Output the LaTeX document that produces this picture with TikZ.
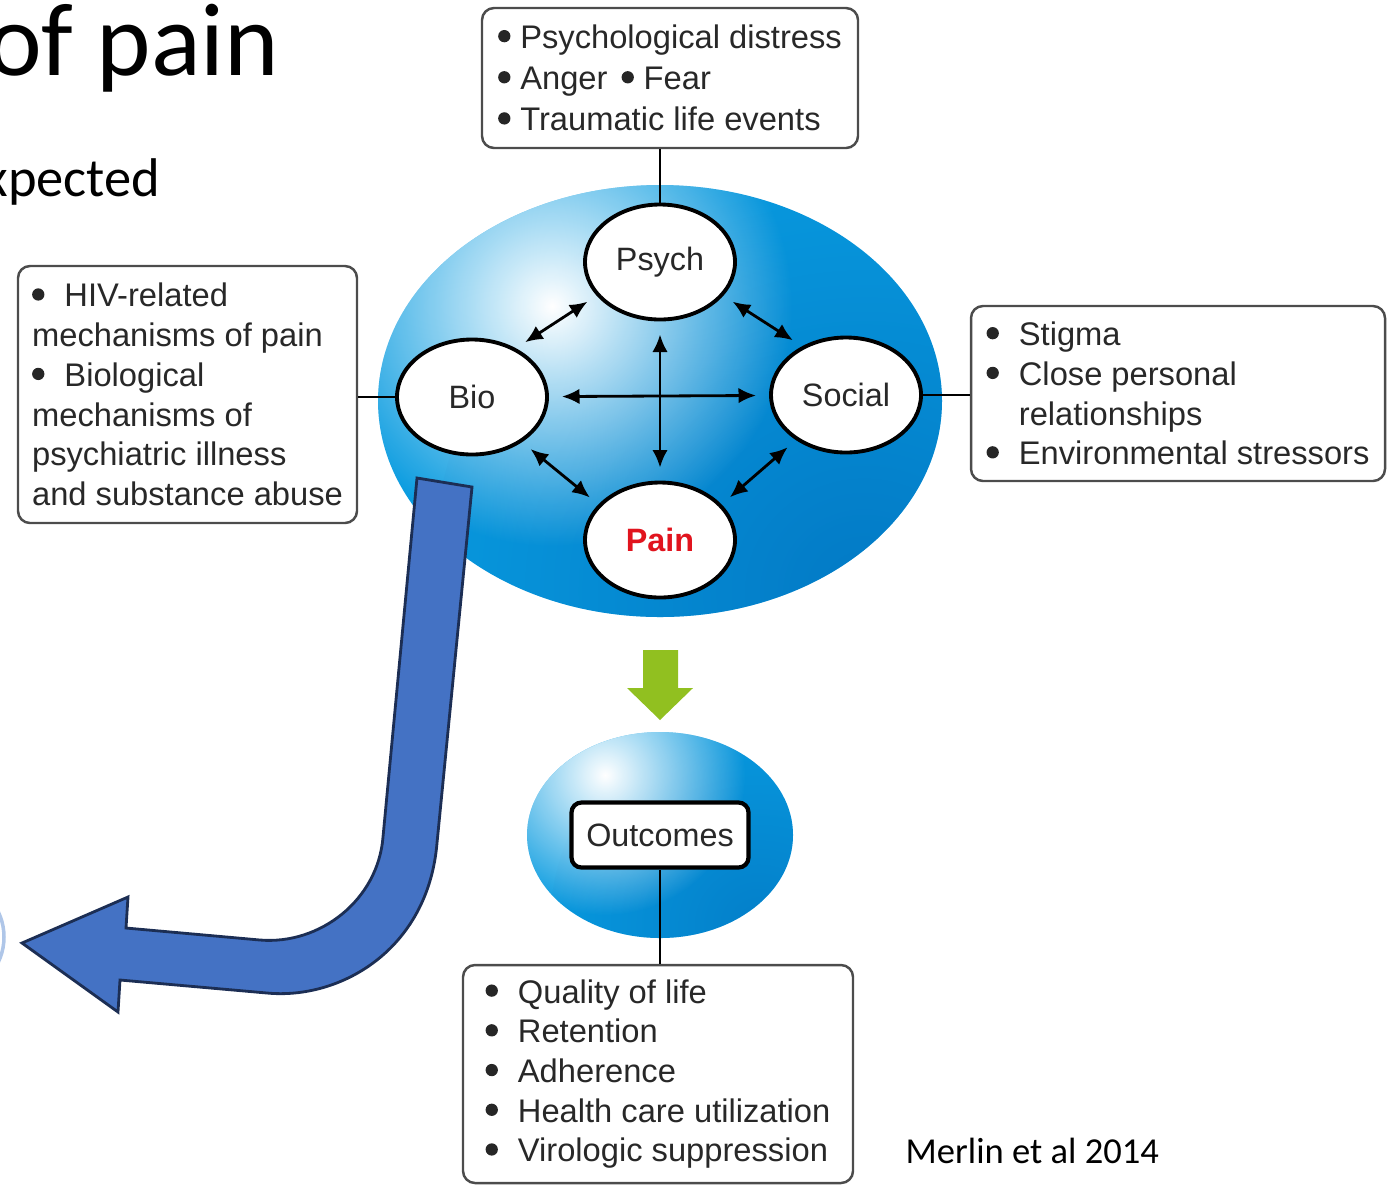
\documentclass[tikz,border=0pt]{standalone}
\usepackage{graphicx}
\usepackage{fontspec}
\setmainfont{Liberation Sans}
\newfontfamily\slidefont{Carlito}
\usetikzlibrary{shapes.geometric,arrows.meta,fadings}
\tikzfading[name=glow, inner color=transparent!0, outer color=transparent!100]
\definecolor{blobblue}{RGB}{8,155,224}
\definecolor{blobdark}{RGB}{0,100,180}
\definecolor{txtgrey}{RGB}{40,40,40}
\definecolor{leafgreen}{RGB}{145,192,32}
\definecolor{pptblue}{RGB}{68,114,196}
\definecolor{pptedge}{RGB}{28,46,84}
\definecolor{paleblue}{RGB}{175,198,232}
\definecolor{painred}{RGB}{225,20,30}
\tikzstyle{listbox} = [rectangle, draw=black!70, line width=0.7pt, rounded corners=1.2mm, align=left, text=txtgrey, font=\fontsize{9.3}{11.3}\selectfont, inner sep=0pt]
\tikzstyle{factor} = [ellipse, draw, line width=1.1pt, fill=white, minimum width=15mm, minimum height=11.5mm, inner sep=0pt, text=txtgrey, font=\fontsize{9.2}{11}\selectfont]
\tikzstyle{blob} = [ellipse, fill=blobblue, inner sep=0pt]
\tikzstyle{link} = [line width=0.6pt]
\tikzstyle{twoway} = [line width=0.8pt, {Latex[length=5pt,width=4.4pt]}-{Latex[length=5pt,width=4.4pt]}, shorten >=1.1mm, shorten <=1.1mm]
\tikzstyle{slide} = [inner sep=0pt, font=\slidefont]
\newcommand{\bul}[1][9.2pt]{\makebox[#1][l]{\tikz[baseline=-0.38em]\fill[black!85] (1.8pt,0) circle [radius=1.75pt];}}

\begin{document}
\begin{tikzpicture}[x=0.1mm, y=-0.1mm]
    \useasboundingbox (0,0) rectangle (1397,1185);
    % what is left of the slide text
    \node[slide, anchor=base east, font=\slidefont\fontsize{29.5}{30}\selectfont] (title) at (280,75) {of pain};
    \node[slide, anchor=base east, font=\slidefont\fontsize{15.5}{16}\selectfont] (subtitle) at (161,196) {xpected};
    \node[slide, anchor=base west, font=\slidefont\fontsize{10.4}{12}\selectfont] (cite) at (905,1163) {Merlin et al 2014};
    \draw[paleblue, line width=1pt] (-42,937) ellipse [x radius=4.6mm, y radius=5.2mm];
    % the two blue blobs
    \node[blob, minimum width=56.4mm, minimum height=43.2mm, path picture={
        \fill[blobdark, path fading=glow, fill opacity=0.6] ([shift={(230,190)}]path picture bounding box.center) circle [radius=46mm];
        \fill[white, path fading=glow] ([shift={(-108,-95)}]path picture bounding box.center) circle [radius=24mm];
    }] (bpsmodel) at (660,401) {};
    \node[blob, minimum width=26.6mm, minimum height=20.6mm, path picture={
        \fill[blobdark, path fading=glow, fill opacity=0.5] ([shift={(110,90)}]path picture bounding box.center) circle [radius=22mm];
        \fill[white, path fading=glow] ([shift={(-55,-60)}]path picture bounding box.center) circle [radius=14mm];
    }] (outblob) at (660,835) {};
    \fill[leafgreen] (643,650) -- (678,650) -- (678,688) -- (693,688) -- (660,720) -- (627,688) -- (643,688) -- cycle;
    % boxes
    \node[listbox, minimum width=37.6mm, minimum height=14mm, font=\fontsize{9.3}{11.7}\selectfont] (psybox) at (670,78)
        {\bul[6.3pt]Psychological distress\\ \bul[6.3pt]Anger\hspace{4pt}\bul[6.3pt]Fear\\ \bul[6.3pt]Traumatic life events};
    \node[listbox, minimum width=33.9mm, minimum height=25.7mm] (biobox) at (187.5,394.5)
        {\bul HIV-related\\ mechanisms of pain\\ \bul Biological\\ mechanisms of\\ psychiatric illness\\ and substance abuse};
    \node[listbox, minimum width=41.4mm, minimum height=17.5mm] (socbox) at (1178,393.5)
        {\bul Stigma\\ \bul Close personal\\ \hspace*{9.2pt}relationships\\ \bul Environmental stressors};
    \node[listbox, minimum width=39mm, minimum height=21.8mm] (outbox) at (658,1074)
        {\bul Quality of life\\ \bul Retention\\ \bul Adherence\\ \bul Health care utilization\\ \bul Virologic suppression};
    % the four factors
    \node[factor] (psych) at (660,262) {Psych};
    \node[factor] (bio) at (472,397) {Bio};
    \node[factor] (social) at (846,395) {Social};
    \node[factor, text=painred, font=\bfseries\fontsize{9.2}{11}\selectfont] (pain) at (660,540) {Pain};
    \node[rectangle, draw, line width=1.2pt, rounded corners=1mm, fill=white, minimum width=17.7mm, minimum height=6.5mm, text=txtgrey, font=\fontsize{9.2}{11}\selectfont] (outcomes) at (660,835) {Outcomes};
    \draw[link] (psych.north) -- (psych.north |- psybox.south);
    \draw[link] (bio.west) -- (bio.west -| biobox.east);
    \draw[link] (social.east) -- (social.east -| socbox.west);
    \draw[link] (outcomes.south) -- (outcomes.south |- outbox.north);
    \draw[twoway] (bio.48) -- (psych.208);
    \draw[twoway] (social.132) -- (psych.332);
    \draw[twoway] (bio.318) -- (pain.150);
    \draw[twoway] (social.222) -- (pain.30);
    \draw[twoway, shorten >=1.3mm, shorten <=1.3mm] (bio) -- (social);
    \draw[twoway, shorten >=1.3mm, shorten <=1.3mm] (psych) -- (pain);
    % big bent arrow
    \filldraw[fill=pptblue, draw=pptedge, line width=0.8pt, line join=miter] (417,478) -- (472,487) -- (437,843)
        .. controls (428,950) and (340,1000) .. (267,993) -- (120,980) -- (118,1012) -- (22,943) -- (128,897) -- (126,928)
        -- (260,940) .. controls (320,945) and (378,900) .. (383,837) -- cycle;
\end{tikzpicture}
\end{document}
